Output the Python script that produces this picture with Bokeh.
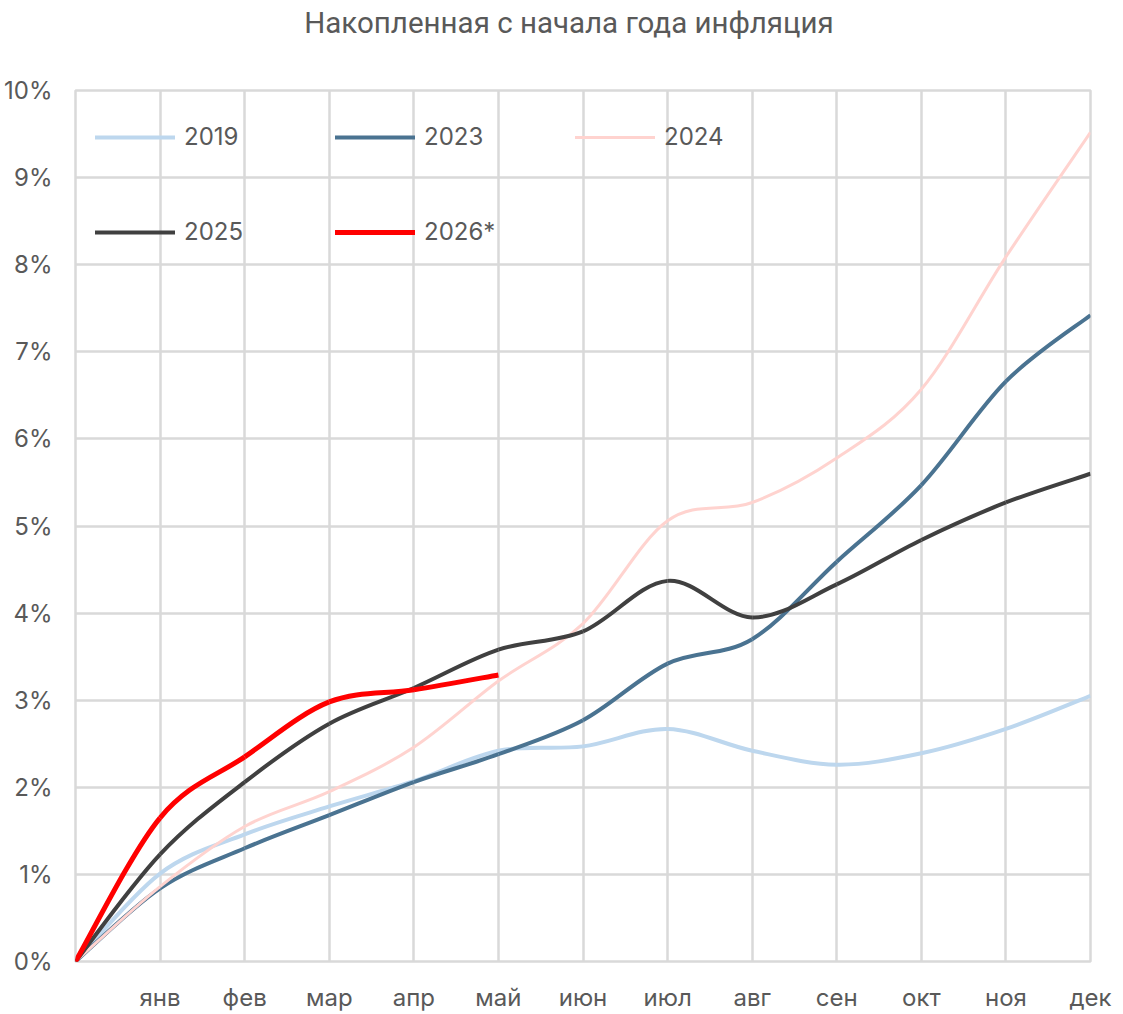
from bokeh.plotting import figure
from bokeh.layouts import column
from bokeh.models import FixedTicker, Legend, LegendItem, ColumnDataSource, Label
from bokeh.embed import file_html
from bokeh.resources import INLINE

# Cumulative inflation since the start of the year, % (index 0 = start of year)
months = ["", "янв", "фев", "мар", "апр", "май", "июн", "июл", "авг", "сен", "окт", "ноя", "дек"]
infl_2019 = [0.0, 1.01, 1.46, 1.78, 2.07, 2.42, 2.47, 2.67, 2.42, 2.26, 2.39, 2.67, 3.05]
infl_2023 = [0.0, 0.84, 1.30, 1.68, 2.06, 2.38, 2.77, 3.42, 3.70, 4.59, 5.47, 6.66, 7.42]
infl_2024 = [0.0, 0.86, 1.55, 1.95, 2.46, 3.22, 3.88, 5.06, 5.27, 5.78, 6.57, 8.09, 9.52]
infl_2025 = [0.0, 1.23, 2.06, 2.73, 3.14, 3.58, 3.79, 4.37, 3.95, 4.33, 4.84, 5.27, 5.60]
infl_2026 = [0.0, 1.65, 2.35, 2.98, 3.12, 3.29]

series = [
    ("2019", infl_2019, "#bdd7ee", 4.0),
    ("2023", infl_2023, "#4a7391", 4.0),
    ("2024", infl_2024, "#ffd3cf", 3.0),
    ("2025", infl_2025, "#404040", 4.0),
    ("2026*", infl_2026, "#ff0000", 5.0),
]

TEXT = "#595959"
GRID = "#d9d9d9"
W = 1123
HEAD_H = 45


def smooth_segments(ys):
    """Cubic Bezier pieces through consecutive points (Catmull-Rom style)."""
    xs = list(range(len(ys)))
    n = len(ys)
    d = dict(x0=[], y0=[], x1=[], y1=[], cx0=[], cy0=[], cx1=[], cy1=[])
    for i in range(n - 1):
        xp, yp = (xs[i - 1], ys[i - 1]) if i > 0 else (xs[i], ys[i])
        xn, yn = (xs[i + 2], ys[i + 2]) if i + 2 < n else (xs[i + 1], ys[i + 1])
        d["x0"].append(xs[i]); d["y0"].append(ys[i])
        d["x1"].append(xs[i + 1]); d["y1"].append(ys[i + 1])
        d["cx0"].append(xs[i] + (xs[i + 1] - xp) / 6.0)
        d["cy0"].append(ys[i] + (ys[i + 1] - yp) / 6.0)
        d["cx1"].append(xs[i + 1] - (xn - xs[i]) / 6.0)
        d["cy1"].append(ys[i + 1] - (yn - ys[i]) / 6.0)
    return ColumnDataSource(d)


# heading strip
head = figure(width=W, height=HEAD_H, output_backend="svg", toolbar_location=None,
              x_range=(0, W), y_range=(0, 1),
              min_border_left=0, min_border_right=0, min_border_top=0, min_border_bottom=0)
head.axis.visible = False
head.grid.visible = False
head.outline_line_color = None
head.background_fill_color = "white"
head.border_fill_color = "white"
head.add_layout(Label(x=546, y=0.5, text="Накопленная с начала года инфляция",
                      text_align="center", text_baseline="middle",
                      text_font="Roboto", text_font_size="29.5px", text_color=TEXT))

p = figure(width=W, height=1014 - HEAD_H, output_backend="svg", toolbar_location=None,
           x_range=(0, 12), y_range=(0, 10),
           min_border_left=75, min_border_right=33, min_border_top=90 - HEAD_H,
           min_border_bottom=52)

p.background_fill_color = "white"
p.border_fill_color = "white"
p.outline_line_color = GRID
p.outline_line_width = 2.5

p.xaxis.ticker = FixedTicker(ticks=list(range(13)))
p.xaxis.major_label_overrides = {i: m for i, m in enumerate(months)}
p.yaxis.ticker = FixedTicker(ticks=list(range(11)))
p.yaxis.major_label_overrides = {i: f"{i}%" for i in range(11)}

for ax in (p.xaxis, p.yaxis):
    ax.axis_line_color = None
    ax.major_tick_line_color = None
    ax.minor_tick_line_color = None
    ax.major_label_text_color = TEXT
    ax.major_label_text_font = "Inter"
    ax.major_label_text_font_size = "24px"
p.xaxis.major_label_standoff = 15
p.yaxis.major_label_standoff = 17

p.xgrid.grid_line_color = GRID
p.ygrid.grid_line_color = GRID
p.xgrid.grid_line_width = 2.5
p.ygrid.grid_line_width = 2.5

items = {}
for name, ys, color, w in series:
    src = smooth_segments(ys)
    p.bezier(x0="x0", y0="y0", x1="x1", y1="y1", cx0="cx0", cy0="cy0",
             cx1="cx1", cy1="cy1", source=src, line_color=color, line_width=w)
    # zero-length stub at the common origin, used only as the legend key
    key = p.line(x=[0, 0], y=ys[:1] * 2, line_color=color, line_width=w, line_cap="round")
    items[name] = key


def make_legend(names, loc):
    leg = Legend(items=[LegendItem(label=n, renderers=[items[n]]) for n in names],
                 location=loc, orientation="horizontal",
                 glyph_width=80, glyph_height=28, label_standoff=9, label_width=140,
                 spacing=11, padding=0, margin=0,
                 background_fill_alpha=0, border_line_color=None,
                 label_text_font="Inter", label_text_font_size="24px",
                 label_text_color=TEXT)
    p.add_layout(leg, "center")


make_legend(["2019", "2023", "2024"], (20, 810))
make_legend(["2025", "2026*"], (20, 715))

page = column(head, p, spacing=0)
open("out.html", "w").write(file_html(page, INLINE))
